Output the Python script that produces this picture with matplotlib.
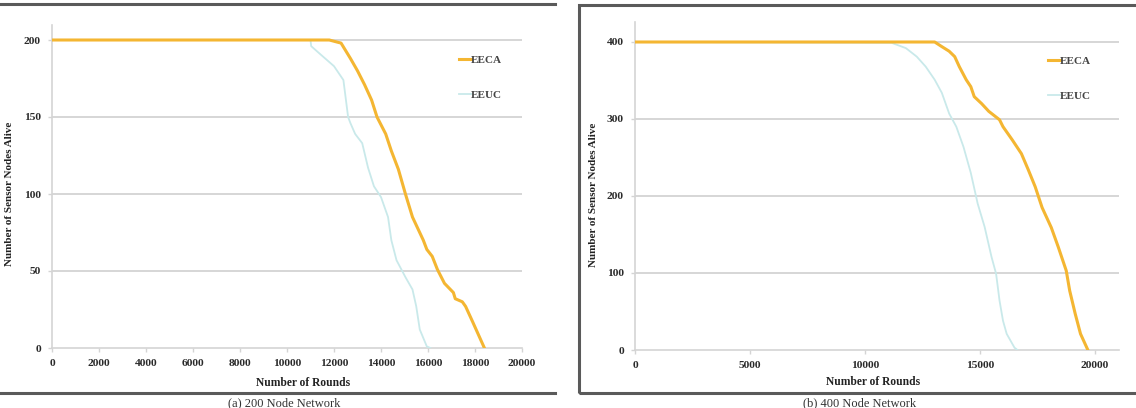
import matplotlib
matplotlib.use("Agg")
import matplotlib.pyplot as plt
from matplotlib.lines import Line2D
from matplotlib.patches import Rectangle

# ---------------- data ----------------
# (a) 200 node network
a_eeca_rounds = [0, 11800, 12170, 12300, 12700, 13000, 13300, 13600, 13830, 14200, 14440,
                 14740, 15040, 15340, 15800, 15950, 16180, 16400, 16700, 17080, 17160,
                 17460, 17600, 17900, 18400]
a_eeca_alive = [200, 200, 198.5, 198, 188, 180, 171, 161, 150, 139, 128,
                116, 100, 85, 70, 64, 59.5, 51, 42, 36, 32,
                30, 27, 17, 0]
a_eeuc_rounds = [0, 11000, 11030, 11400, 12000, 12400, 12600, 12700, 12900, 13200, 13450,
                 13700, 14000, 14300, 14440, 14660, 15040, 15340, 15500, 15650, 15950, 16100]
a_eeuc_alive = [200, 200, 196, 191, 183, 174, 150, 146, 139, 133, 117,
                105, 98, 85, 70, 57, 46, 38, 27, 12, 1, 0]

# (b) 400 node network
b_eeca_rounds = [0, 13030, 13340, 13660, 13900, 14100, 14400, 14600, 14750, 15070, 15380,
                 15850, 16000, 16400, 16800, 17100, 17400, 17700, 18100, 18400, 18750,
                 18900, 19140, 19370, 19690]
b_eeca_alive = [400, 400, 394, 388, 381, 368, 351, 342, 329, 320, 310,
                299, 290, 273, 255, 234, 212, 185, 159, 134, 103,
                77, 47, 21, 0]
b_eeuc_rounds = [0, 11150, 11780, 12250, 12640, 13030, 13340, 13660, 13970, 14280, 14600,
                 14900, 15200, 15500, 15700, 15850, 16000, 16160, 16500, 16630]
b_eeuc_alive = [400, 399, 392, 381, 368, 351, 334, 307, 290, 264, 230,
                190, 160, 121, 99, 64, 38, 21, 3, 0]

series_labels = ["EECA", "EEUC"]
a_xticks = [0, 2000, 4000, 6000, 8000, 10000, 12000, 14000, 16000, 18000, 20000]
a_yticks = [0, 50, 100, 150, 200]
b_xticks = [0, 5000, 10000, 15000, 20000]
b_yticks = [0, 100, 200, 300, 400]
captions = ["(a) 200 Node Network", "(b) 400 Node Network"]

# ---------------- style ----------------
W, H = 1136, 408
fig = plt.figure(figsize=(W / 100, H / 100), dpi=100)
SERIF = ["Liberation Serif", "DejaVu Serif"]
C_EECA = "#F4B632"
C_EEUC = "#C9E9EA"
C_GRID = "#CFCFCF"
C_AX = "#D4D4D4"


def fx(px):
    return px / W


def fy(py):
    return 1 - py / H


def make_axes(rect, xlim, ylim, xt, yt, eeca, eeuc, leg_xy, ylab_x, ylab_y, xlab_x, xlab_y):
    ax = fig.add_axes(rect)
    ax.plot(eeuc[0], eeuc[1], color=C_EEUC, lw=1.3, zorder=3)
    ax.plot(eeca[0], eeca[1], color=C_EECA, lw=2.2, zorder=4)
    ax.set_xlim(*xlim)
    ax.set_ylim(*ylim)
    ax.set_xticks(xt)
    ax.set_yticks(yt)
    for t in yt[1:]:
        ax.axhline(t, color=C_GRID, lw=1.2, zorder=1)
    for s in ["top", "right"]:
        ax.spines[s].set_visible(False)
    for s in ["left", "bottom"]:
        ax.spines[s].set_color(C_AX)
        ax.spines[s].set_linewidth(1.2)
    ax.tick_params(axis="both", colors=C_AX, length=3, width=1, labelcolor="#2A2A2A",
                   labelsize=8.2, pad=5)
    for lab in ax.get_xticklabels() + ax.get_yticklabels():
        lab.set_family(SERIF)
        lab.set_weight("semibold")
    handles = [Line2D([], [], color=C_EECA, lw=2.2), Line2D([], [], color=C_EEUC, lw=1.3)]
    leg = ax.legend(handles, series_labels, loc="upper left",
                    bbox_to_anchor=leg_xy, bbox_transform=fig.transFigure,
                    frameon=False, handlelength=1.1, handletextpad=0.0,
                    borderpad=0, borderaxespad=0, labelspacing=2.3,
                    prop={"family": SERIF, "size": 8, "weight": "bold"})
    for t in leg.get_texts():
        t.set_color("#444444")
    fig.text(ylab_x, ylab_y, "Number of Sensor Nodes Alive", rotation=90, ha="center",
             va="center", family=SERIF, fontsize=8, weight="bold", color="#222222")
    fig.text(xlab_x, xlab_y, "Number of Rounds", ha="center", va="center",
             family=SERIF, fontsize=8.3, weight="bold", color="#222222")
    return ax


# left panel: x0 at 52px, 20000 at 522px; y0 at 348px, 200 at 40px; axis top 25px
ax1 = make_axes([fx(52), fy(348), fx(522) - fx(52), fy(25) - fy(348)],
                (0, 20000), (0, 200 * (348 - 25) / (348 - 40)),
                a_xticks, a_yticks,
                (a_eeca_rounds, a_eeca_alive), (a_eeuc_rounds, a_eeuc_alive),
                (fx(459), fy(55)), fx(10), fy(194), fx(303), fy(383))

# right panel: x0 at 635px, 20000 at 1095px; y0 at 350px, 400 at 42px; axis top 22px
xr_end = 20000 * (1119 - 635) / (1095 - 635)
ax2 = make_axes([fx(635), fy(350), fx(1119) - fx(635), fy(22) - fy(350)],
                (0, xr_end), (0, 400 * (350 - 22) / (350 - 42)),
                b_xticks, b_yticks,
                (b_eeca_rounds, b_eeca_alive), (b_eeuc_rounds, b_eeuc_alive),
                (fx(1048), fy(56)), fx(593), fy(195), fx(873), fy(382))

# panel frames
frame_c = "#5A5A5A"
fig.add_artist(Line2D([0, fx(555)], [fy(4), fy(4)], color=frame_c, lw=2.2,
                      transform=fig.transFigure))
fig.add_artist(Line2D([0, fx(555)], [fy(393), fy(393)], color=frame_c, lw=2.2,
                      transform=fig.transFigure))
fig.add_artist(Rectangle((fx(579), fy(393)), fx(1150) - fx(579), fy(5) - fy(393),
                         fill=False, edgecolor=frame_c, lw=2.2, transform=fig.transFigure))

# captions (sitting at the bottom edge as in reference)
fig.text(fx(284), fy(397), captions[0], ha="center", va="top", family=SERIF,
         fontsize=9, color="#333333")
fig.text(fx(860), fy(397), captions[1], ha="center", va="top", family=SERIF,
         fontsize=9, color="#333333")

fig.savefig("out.png", dpi=100)
